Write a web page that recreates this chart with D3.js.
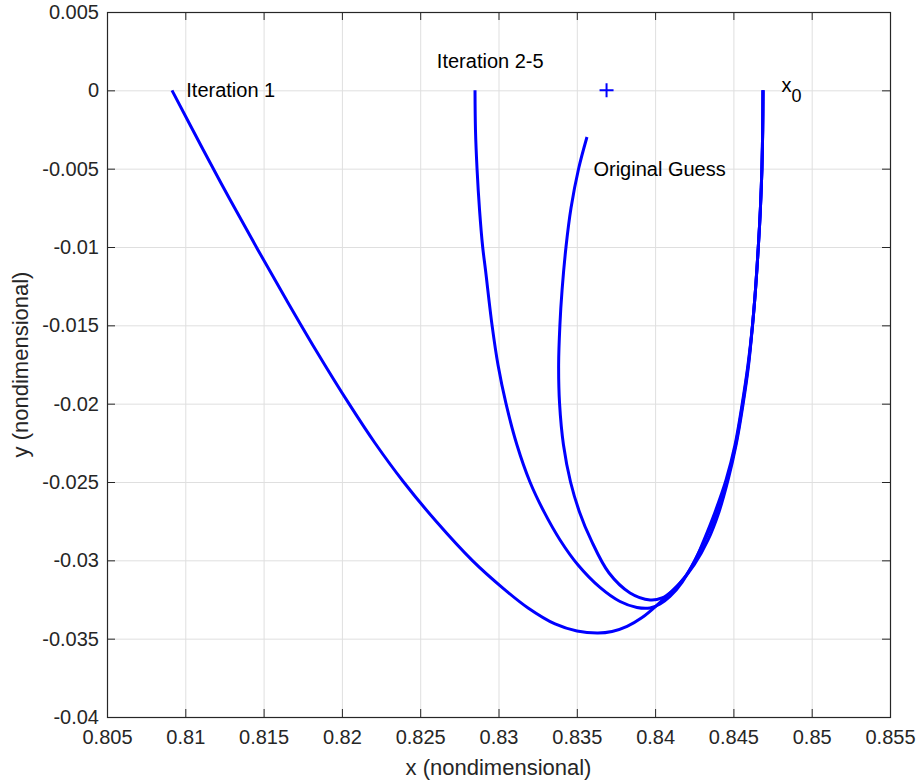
<!doctype html>
<html lang="en">
<head>
<meta charset="UTF-8">
<title>Trajectory iterations</title>
<style>
  body { margin: 0; background: #fff; }
  text { font-family: "Liberation Sans", Arial, Helvetica, sans-serif; }
</style>
</head>
<body>
<div class="container"></div>
<script src="https://d3js.org/d3.v7.min.js"></script>
<script>
  // trajectories, [x, y] in nondimensional units
  const iteration1 = [
    [0.80915, 0], [0.81115, -0.00381], [0.81287, -0.00700], [0.81464, -0.01019],
    [0.81646, -0.01338], [0.81833, -0.01657], [0.82045, -0.0200], [0.82211, -0.02251],
    [0.82394, -0.0250], [0.82600, -0.02749], [0.82832, -0.0300], [0.83028, -0.03177],
    [0.83189, -0.03304], [0.83361, -0.03406], [0.83501, -0.03451], [0.83635, -0.03464],
    [0.83725, -0.03454], [0.83821, -0.03421], [0.83917, -0.03365], [0.84012, -0.03286],
    [0.84159, -0.03145], [0.84249, -0.03030], [0.84338, -0.02870], [0.84408, -0.02691],
    [0.84466, -0.02487], [0.84517, -0.02264], [0.84561, -0.02008], [0.84597, -0.01753],
    [0.84622, -0.0150], [0.84641, -0.01274], [0.84659, -0.0100], [0.84672, -0.00764],
    [0.84682, -0.00502], [0.84687, -0.00253], [0.84689, 0]
  ];
  const iteration25 = [
    [0.82850, 0], [0.82853, -0.00253], [0.82863, -0.00502], [0.82879, -0.00764],
    [0.82899, -0.0100], [0.82917, -0.01147], [0.82959, -0.0150], [0.82997, -0.01753],
    [0.83048, -0.0200], [0.83118, -0.02264], [0.83201, -0.0250], [0.83291, -0.02691],
    [0.83393, -0.02870], [0.83508, -0.03030], [0.83648, -0.03173], [0.83776, -0.03263],
    [0.83884, -0.03301], [0.83968, -0.03304], [0.84032, -0.03279], [0.84095, -0.03231],
    [0.84172, -0.03141], [0.84319, -0.02870], [0.84395, -0.02691], [0.84459, -0.02487],
    [0.84514, -0.02264], [0.84558, -0.02008], [0.84595, -0.01753], [0.84622, -0.0150],
    [0.84641, -0.01274], [0.84659, -0.0100], [0.84672, -0.00764], [0.84682, -0.00502],
    [0.84687, -0.00253], [0.84689, 0]
  ];
  const originalGuess = [
    [0.83565, -0.00298], [0.83511, -0.00502], [0.83463, -0.00751], [0.83431, -0.0100],
    [0.83406, -0.01274], [0.83392, -0.0150], [0.83384, -0.01753], [0.83390, -0.0200],
    [0.83415, -0.02264], [0.83460, -0.0250], [0.83517, -0.02691], [0.83591, -0.02870],
    [0.83706, -0.03081], [0.83840, -0.03208], [0.83968, -0.03253], [0.84044, -0.03240],
    [0.84108, -0.03196], [0.84185, -0.03113], [0.84255, -0.0300], [0.84312, -0.02870],
    [0.84383, -0.02691], [0.84453, -0.02487], [0.84510, -0.02264], [0.84555, -0.02008],
    [0.84593, -0.01753], [0.84622, -0.0150], [0.84641, -0.01274], [0.84659, -0.0100],
    [0.84672, -0.00764], [0.84682, -0.00502], [0.84687, -0.00253], [0.84689, 0]
  ];
  const crossMarker = [[0.8369, 0]];

  // annotations: [x, y, text]
  const labels = [
    [0.81, 0, 'Iteration 1'],
    [0.826, 0.0019, 'Iteration 2-5'],
    [0.836, -0.005, 'Original Guess']
  ];
  const x0Label = [0.848, 0];

  const xTicks = [0.805, 0.81, 0.815, 0.82, 0.825, 0.83, 0.835, 0.84, 0.845, 0.85, 0.855];
  const xTickLabels = ['0.805', '0.81', '0.815', '0.82', '0.825', '0.83', '0.835', '0.84', '0.845', '0.85', '0.855'];
  const yTicks = [0.005, 0, -0.005, -0.01, -0.015, -0.02, -0.025, -0.03, -0.035, -0.04];
  const yTickLabels = ['0.005', '0', '-0.005', '-0.01', '-0.015', '-0.02', '-0.025', '-0.03', '-0.035', '-0.04'];

  const SVG_WIDTH = 919;
  const SVG_HEIGHT = 782;
  const MARGIN = { left: 107, top: 12, right: 29, bottom: 65 };
  const GRAPH_WIDTH = SVG_WIDTH - MARGIN.left - MARGIN.right;
  const GRAPH_HEIGHT = SVG_HEIGHT - MARGIN.top - MARGIN.bottom;
  const AXIS_COLOR = '#262626';
  const GRID_COLOR = '#dfdfdf';
  const LINE_COLOR = '#0000ff';

  const svg = d3.select('.container')
    .append('svg')
    .attr('width', SVG_WIDTH)
    .attr('height', SVG_HEIGHT);

  const graph = svg.append('g')
    .attr('transform', `translate(${MARGIN.left}, ${MARGIN.top})`);

  const x = d3.scaleLinear().domain([0.805, 0.855]).range([0, GRAPH_WIDTH]);
  const y = d3.scaleLinear().domain([-0.04, 0.005]).range([GRAPH_HEIGHT, 0]);

  // grid
  graph.append('g')
    .attr('transform', `translate(0, ${GRAPH_HEIGHT})`)
    .call(d3.axisBottom(x).tickValues(xTicks).tickSize(-GRAPH_HEIGHT).tickFormat(''))
    .call(g => g.select('.domain').remove())
    .call(g => g.selectAll('line').attr('stroke', GRID_COLOR));
  graph.append('g')
    .call(d3.axisLeft(y).tickValues(yTicks).tickSize(-GRAPH_WIDTH).tickFormat(''))
    .call(g => g.select('.domain').remove())
    .call(g => g.selectAll('line').attr('stroke', GRID_COLOR));

  // curves
  const line = d3.line()
    .x(d => x(d[0]))
    .y(d => y(d[1]))
    .curve(d3.curveCatmullRom.alpha(0.5));

  graph.selectAll('path.traj')
    .data([iteration1, iteration25, originalGuess])
    .enter().append('path')
    .attr('class', 'traj')
    .attr('d', line)
    .attr('fill', 'none')
    .attr('stroke', LINE_COLOR)
    .attr('stroke-width', 3)
    .attr('stroke-linejoin', 'round')
    .attr('stroke-linecap', 'butt');

  graph.selectAll('path.cross')
    .data(crossMarker)
    .enter().append('path')
    .attr('class', 'cross')
    .attr('transform', d => `translate(${x(d[0])}, ${y(d[1])})`)
    .attr('d', 'M-7,0H7M0,-7V7')
    .attr('stroke', LINE_COLOR)
    .attr('stroke-width', 2);

  // annotations
  graph.selectAll('text.note')
    .data(labels)
    .enter().append('text')
    .attr('class', 'note')
    .attr('x', d => x(d[0]) + 1)
    .attr('y', d => y(d[1]))
    .attr('dy', '0.35em')
    .attr('font-size', 20)
    .attr('fill', '#000')
    .text(d => d[2]);

  const x0Text = graph.append('text')
    .attr('x', x(x0Label[0]) + 1)
    .attr('y', y(x0Label[1]) + 2)
    .attr('font-size', 20)
    .attr('fill', '#000');
  x0Text.append('tspan').text('x');
  x0Text.append('tspan').attr('dy', 10).attr('font-size', 18).text('0');

  // axes with inward ticks
  const styleAxis = g => {
    g.select('.domain').remove();
    g.selectAll('line').attr('stroke', AXIS_COLOR);
    g.selectAll('text').attr('fill', AXIS_COLOR).attr('font-size', 20)
      .attr('font-family', '"Liberation Sans", Arial, Helvetica, sans-serif');
  };

  graph.append('g')
    .attr('transform', `translate(0, ${GRAPH_HEIGHT})`)
    .call(d3.axisBottom(x).tickValues(xTicks).tickFormat((d, i) => xTickLabels[i])
      .tickSizeInner(-8).tickSizeOuter(0).tickPadding(13))
    .call(styleAxis);
  graph.append('g')
    .call(d3.axisLeft(y).tickValues(yTicks).tickFormat((d, i) => yTickLabels[i])
      .tickSizeInner(-8).tickSizeOuter(0).tickPadding(8))
    .call(styleAxis);
  graph.append('g')
    .call(d3.axisTop(x).tickValues(xTicks).tickFormat('').tickSizeInner(-8).tickSizeOuter(0))
    .call(styleAxis);
  graph.append('g')
    .attr('transform', `translate(${GRAPH_WIDTH}, 0)`)
    .call(d3.axisRight(y).tickValues(yTicks).tickFormat('').tickSizeInner(-8).tickSizeOuter(0))
    .call(styleAxis);

  graph.append('rect')
    .attr('x', 0.5).attr('y', 0.5)
    .attr('width', GRAPH_WIDTH).attr('height', GRAPH_HEIGHT)
    .attr('fill', 'none')
    .attr('stroke', AXIS_COLOR)
    .attr('stroke-width', 1.2);

  // axis titles
  svg.append('text')
    .attr('x', MARGIN.left + GRAPH_WIDTH / 2)
    .attr('y', 775)
    .attr('text-anchor', 'middle')
    .attr('font-size', 22)
    .attr('fill', AXIS_COLOR)
    .text('x (nondimensional)');
  svg.append('text')
    .attr('transform', `translate(28, ${MARGIN.top + GRAPH_HEIGHT / 2}) rotate(-90)`)
    .attr('text-anchor', 'middle')
    .attr('font-size', 22)
    .attr('fill', AXIS_COLOR)
    .text('y (nondimensional)');
</script>
</body>
</html>
